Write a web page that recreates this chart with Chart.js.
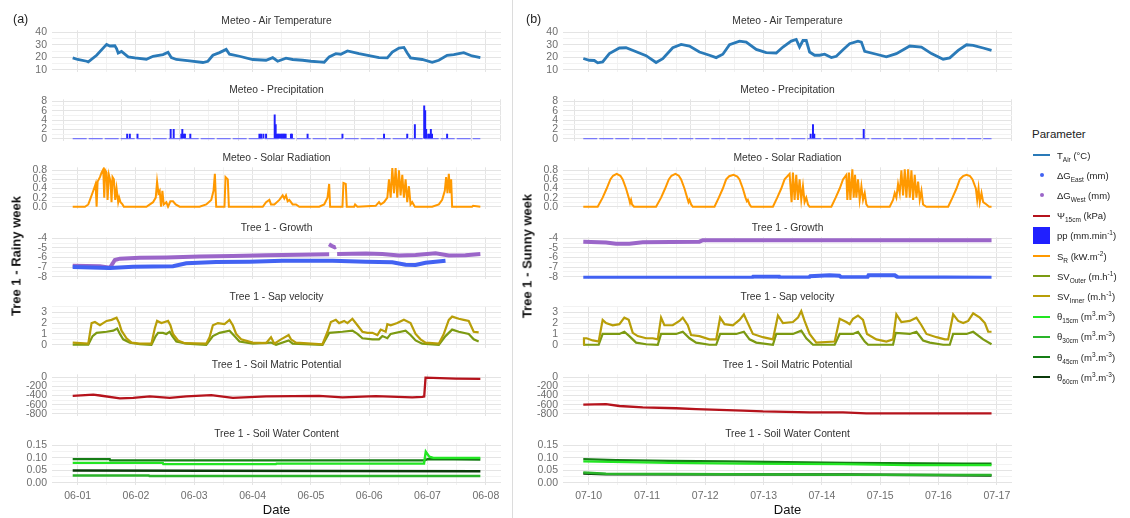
<!DOCTYPE html>
<html>
<head>
<meta charset="utf-8">
<title>Tree 1 - rainy week / sunny week</title>
<script src="https://cdn.jsdelivr.net/npm/chart.js@4.4.1/dist/chart.umd.min.js"></script>
<style>
  html, body { margin: 0; padding: 0; background: #fff; }
  body { position: relative; width: 1130px; height: 518px; overflow: hidden; font-family: "Liberation Sans", Arial, sans-serif; }
  canvas { position: absolute; }
  .abs { position: absolute; white-space: nowrap; }
  .facet { font-size: 10.3px; color: #333; transform: translate(-50%, -50%); }
  .tag { font-size: 12.5px; color: #222; transform: translate(0, -50%); }
  .xttl { font-size: 13px; color: #111; transform: translate(-50%, -50%); }
  .yttl { font-size: 13px; font-weight: bold; color: #111; transform: translate(-50%, -50%) rotate(-90deg); }
  .sep { position: absolute; left: 512px; top: 0; width: 1px; height: 518px; background: #dcdcdc; }
  .lg-title { font-size: 11.5px; color: #222; transform: translate(0, -50%); }
  .lg-row { position: absolute; left: 1033px; height: 18px; font-size: 9.5px; color: #222; display: flex; align-items: center; transform: translate(0, -50%); }
  .lg-key { width: 17px; height: 17px; margin-right: 7px; display: flex; align-items: center; justify-content: center; }
  sub, sup { font-size: 6.5px; line-height: 0; }
</style>
</head>
<body>
<div class="sep"></div>
<script>
// ---- x axis: days since the first date ----
const dayTicks = [0, 1, 2, 3, 4, 5, 6, 7];
const dayLabelsA = ['06-01', '06-02', '06-03', '06-04', '06-05', '06-06', '06-07', '06-08'];
const dayLabelsB = ['07-10', '07-11', '07-12', '07-13', '07-14', '07-15', '07-16', '07-17'];

// ---- y ticks ----
const tempTicks = [10, 20, 30, 40];
const tempTickLabels = ['10', '20', '30', '40'];
const ppTicks = [0, 2, 4, 6, 8];
const ppTickLabels = ['0', '2', '4', '6', '8'];
const srTicks = [0, 0.2, 0.4, 0.6, 0.8];
const srTickLabels = ['0.0', '0.2', '0.4', '0.6', '0.8'];
const growthTicks = [-8, -7, -6, -5, -4];
const growthTickLabels = ['-8', '-7', '-6', '-5', '-4'];
const svTicks = [0, 1, 2, 3];
const svTickLabels = ['0', '1', '2', '3'];
const psiTicks = [-800, -600, -400, -200, 0];
const psiTickLabels = ['-800', '-600', '-400', '-200', '0'];
const swcTicks = [0, 0.05, 0.1, 0.15];
const swcTickLabels = ['0.00', '0.05', '0.10', '0.15'];

// ================= (a) rainy week =================
const tempA_t = [-0.085, 0, 0.154, 0.182, 0.325, 0.496, 0.553, 0.638, 0.667, 0.695, 0.752, 0.866, 0.98, 1.179, 1.293, 1.464, 1.55, 1.607, 1.692, 1.92, 2.148, 2.234, 2.319, 2.433, 2.547, 2.604, 2.775, 3.003, 3.231, 3.345, 3.43, 3.573, 3.687, 3.858, 4.0, 4.142, 4.228, 4.313, 4.427, 4.513, 4.627, 4.826, 4.997, 5.168, 5.311, 5.396, 5.51, 5.595, 5.652, 5.709, 5.909, 6.08, 6.194, 6.336, 6.45, 6.536, 6.621, 6.764, 6.906];
const tempA_v = [19.5, 18.2, 16.8, 16.3, 21.6, 30.3, 29, 29.2, 27, 23.4, 24.7, 20.3, 19.5, 18.4, 20.8, 22.1, 24, 19.7, 18.2, 17.1, 15.8, 16.8, 21.6, 23.7, 26.3, 22.4, 20.8, 18.2, 17.6, 19.7, 16.8, 19.2, 18.2, 17.6, 16.8, 16.3, 16, 20.3, 22.9, 22.4, 25, 22.9, 21.3, 19.7, 19.5, 24.2, 27.4, 27.9, 23.4, 19.5, 18.2, 16, 17.6, 21.6, 22.1, 22.9, 23.7, 21, 19.7];

const ppA_t = [0.849, 0.895, 1.026, 1.595, 1.647, 1.778, 1.795, 1.818, 1.84, 1.932, 3.117, 3.145, 3.185, 3.231, 3.379, 3.396, 3.413, 3.436, 3.459, 3.481, 3.504, 3.527, 3.544, 3.567, 3.658, 3.675, 3.943, 4.541, 5.254, 5.652, 5.783, 5.943, 5.96, 5.977, 6.011, 6.034, 6.057, 6.077, 6.336];
const ppA_v = [1, 1, 1, 2, 2, 1, 2, 1, 1, 1, 1, 1, 1, 1, 5.1, 3, 1, 1, 1, 1, 1, 1, 1, 1, 1, 1, 1, 1, 1, 1, 3, 7, 6, 2, 1, 1, 2, 1, 1];
const ppBaseA_t = [-0.085, 6.906];
const ppBaseA_v = [0, 0];

const srA_t = [-0.085, 0.125, 0.182, 0.211, 0.268, 0.308, 0.325, 0.342, 0.382, 0.41, 0.439, 0.456, 0.473, 0.496, 0.513, 0.536, 0.564, 0.581, 0.598, 0.621, 0.644, 0.667, 0.695, 0.712, 0.735, 0.769, 0.792,
  1.179, 1.293, 1.339, 1.362, 1.385, 1.407, 1.43, 1.453, 1.476, 1.521, 1.55, 1.59, 1.635, 1.681, 1.749,
  2.091, 2.205, 2.291, 2.33, 2.353, 2.376, 2.518, 2.536, 2.575, 2.593,
  3.174, 3.231, 3.288, 3.316, 3.373, 3.459, 3.516, 3.544, 3.573, 3.601, 3.63, 3.687, 3.744, 3.801,
  4.142, 4.228, 4.285, 4.313, 4.33, 4.541, 4.558, 4.598, 4.615, 4.741, 4.758, 4.798,
  5.111, 5.168, 5.197, 5.254, 5.311, 5.339, 5.368, 5.396, 5.425, 5.453, 5.481, 5.51, 5.538, 5.567, 5.595, 5.624, 5.652, 5.681, 5.709, 5.738, 5.783,
  6.08, 6.194, 6.251, 6.296, 6.319, 6.342, 6.365, 6.387, 6.405, 6.422, 6.764, 6.781, 6.906];
const srA_v = [0, 0, 0.05, 0.15, 0.35, 0.5, 0, 0.55, 0.65, 0.75, 0.82, 0.2, 0.8, 0.75, 0.15, 0.7, 0.55, 0.1, 0.65, 0.6, 0.15, 0.4, 0.1, 0.2, 0.1, 0.05, 0,
  0, 0.1, 0.2, 0.55, 0.3, 0.35, 0, 0.35, 0.05, 0.1, 0, 0.12, 0.12, 0.05, 0,
  0, 0.05, 0.15, 0.35, 0.72, 0, 0, 0.65, 0.6, 0,
  0, 0.1, 0.15, 0.05, 0.05, 0.15, 0.25, 0.18, 0.25, 0.12, 0.15, 0.05, 0.05, 0,
  0, 0.05, 0.2, 0.5, 0, 0, 0.52, 0.5, 0, 0, 0.05, 0,
  0.02, 0.1, 0.05, 0.1, 0.2, 0.6, 0.2, 0.85, 0.3, 0.85, 0.2, 0.8, 0.25, 0.7, 0.2, 0.6, 0.1, 0.45, 0.05, 0.1, 0,
  0, 0.05, 0.15, 0.35, 0.65, 0.3, 0.72, 0.3, 0.6, 0, 0, 0.02, 0];

const gEastA_t = [-0.085, 0.553, 0.952, 1.635, 1.863, 2.376, 2.946, 3.516, 4.37, 4.94, 5.396, 5.624, 5.795, 5.966, 6.308];
const gEastA_v = [-6.99, -7.1, -6.96, -6.9, -6.6, -6.47, -6.43, -6.33, -6.33, -6.43, -6.5, -6.75, -6.78, -6.54, -6.33];
const gWestA_t = [-0.085, 0.382, 0.553, 0.638, 0.724, 1.066, 1.521, 2.091, 2.661, 3.231, 3.801, 4.313, 4.32, 4.31, 4.36, 4.41, 4.43, 4.44, 4.45, 4.943, 5.225, 5.51, 5.795, 6.137, 6.365, 6.65, 6.906];
const gWestA_v = [-6.85, -6.9, -7.06, -6.26, -6.12, -6.02, -6.0, -5.9, -5.84, -5.77, -5.7, -5.67, null, -4.62, -4.8, -4.95, -4.9, null, -5.64, -5.57, -5.64, -5.8, -5.75, -5.57, -5.8, -5.76, -5.64];

const svInnerA_t = [-0.085, 0.182, 0.239, 0.296, 0.382, 0.496, 0.581, 0.667, 0.712, 0.752, 0.838, 0.923, 1.066, 1.265, 1.322, 1.362, 1.436, 1.493, 1.55, 1.59, 1.635, 1.721, 1.835, 2.205, 2.262, 2.319, 2.405, 2.519, 2.604, 2.661, 2.718, 2.803, 3.003, 3.231, 3.316, 3.373, 3.487, 3.618, 3.658, 3.744, 4.199, 4.285, 4.342, 4.427, 4.484, 4.57, 4.627, 4.712, 4.798, 4.883, 4.969, 5.054, 5.14, 5.197, 5.282, 5.311, 5.368, 5.481, 5.595, 5.709, 5.795, 5.88, 5.966, 6.194, 6.279, 6.365, 6.422, 6.536, 6.621, 6.707, 6.792, 6.877];
const svInnerA_v = [0.2, 0.1, 2.0, 2.1, 1.8, 2.2, 2.3, 2.5, 2.0, 1.3, 0.6, 0.2, 0.1, 0.1, 1.5, 2.2, 2.0, 2.1, 2.2, 1.8, 1.0, 0.4, 0.15, 0.1, 0.7, 1.8, 2.0, 1.9, 2.3, 1.8, 1.0, 0.5, 0.2, 0.15, 0.7, 0.1, 0.5, 0.9, 0.5, 0.2, 0.05, 1.2, 2.1, 2.3, 2.0, 2.2, 2.0, 2.4, 1.8, 1.2, 1.1, 1.1, 0.9, 1.4, 1.2, 1.9, 1.8, 2.0, 2.3, 2.0, 1.0, 0.5, 0.2, 0.1, 1.0, 2.3, 2.6, 2.4, 2.3, 2.2, 1.2, 1.15];
const svOuterA_t = [-0.085, 0.182, 0.256, 0.325, 0.496, 0.61, 0.678, 0.724, 0.781, 0.895, 1.066, 1.265, 1.339, 1.379, 1.464, 1.521, 1.578, 1.624, 1.692, 1.863, 2.205, 2.319, 2.433, 2.604, 2.689, 2.775, 3.003, 3.316, 3.402, 3.618, 3.687, 4.199, 4.313, 4.541, 4.712, 4.798, 4.883, 5.054, 5.168, 5.225, 5.311, 5.368, 5.624, 5.709, 5.795, 5.909, 6.194, 6.308, 6.422, 6.536, 6.707, 6.792, 6.877];
const svOuterA_v = [0, 0, 0.8, 1.1, 1.2, 1.3, 1.5, 1.0, 0.5, 0.2, 0.05, 0, 0.8, 1.1, 1.1, 1.0, 1.2, 0.8, 0.3, 0.1, 0, 0.8, 1.1, 1.3, 0.8, 0.3, 0.1, 0.2, 0, 0.4, 0.1, 0, 1.1, 1.2, 1.3, 1.0, 0.6, 0.5, 0.5, 0.8, 0.6, 1.0, 1.3, 0.9, 0.4, 0.1, 0, 0.8, 1.4, 1.2, 1.0, 0.5, 0.3];

const psiA_t = [-0.085, 0.268, 0.382, 0.724, 0.952, 1.236, 1.578, 1.863, 2.291, 2.661, 3.231, 4.142, 4.541, 5.111, 5.738, 5.909, 5.943, 5.966, 6.479, 6.906];
const psiA_v = [-407, -380, -400, -463, -450, -420, -450, -420, -393, -450, -420, -407, -442, -414, -442, -428, -420, -10, -30, -35];

const th15A_t = [-0.085, 1.46, 1.47, 3.4, 3.41, 5.94, 5.97, 6.03, 6.1, 6.906];
const th15A_v = [0.08, 0.08, 0.075, 0.075, 0.077, 0.077, 0.125, 0.105, 0.1, 0.1];
const th30A_t = [-0.085, 1.22, 1.23, 6.906];
const th30A_v = [0.03, 0.03, 0.028, 0.028];
const th45A_t = [-0.085, 0.55, 0.56, 5.95, 6.0, 6.906];
const th45A_v = [0.095, 0.095, 0.09, 0.09, 0.095, 0.093];
const th60A_t = [-0.085, 6.906];
const th60A_v = [0.05, 0.047];

// ================= (b) sunny week =================
const tempB_t = [-0.092, 0.011, 0.097, 0.155, 0.24, 0.355, 0.527, 0.641, 0.784, 0.985, 1.156, 1.271, 1.442, 1.586, 1.729, 1.9, 2.072, 2.187, 2.301, 2.416, 2.587, 2.702, 2.874, 3.045, 3.217, 3.332, 3.474, 3.56, 3.617, 3.675, 3.732, 3.789, 3.875, 3.961, 4.047, 4.162, 4.247, 4.362, 4.476, 4.619, 4.677, 4.734, 4.934, 5.106, 5.277, 5.507, 5.707, 5.879, 6.079, 6.193, 6.337, 6.48, 6.594, 6.766, 6.909];
const tempB_v = [19, 17.6, 17.4, 15.5, 16.3, 22.9, 27.4, 27.6, 25, 21.3, 15.8, 18.9, 27.6, 30.3, 29, 24.2, 21.6, 19.7, 22.4, 30, 32.9, 32.1, 26.3, 23.7, 23.4, 28.2, 32.9, 34.2, 28.2, 33.4, 33.4, 24.2, 21.6, 21.6, 22.4, 19.7, 20.8, 26, 30.8, 32.9, 32.1, 24.7, 22.4, 20.3, 22.9, 29, 28.2, 22.9, 18.4, 19.5, 25.5, 30, 29.5, 27.4, 25.5];

const ppB_t = [3.807, 3.847, 3.869, 4.717];
const ppB_v = [1, 3, 1, 2];
const ppBaseB_t = [-0.092, 6.909];
const ppBaseB_v = [0, 0];

const srB_t = [-0.092, 0.155, 0.24, 0.309, 0.372, 0.418, 0.481, 0.544, 0.584, 0.641, 0.687, 0.71, 0.727, 0.744, 0.778,
  1.156, 1.242, 1.311, 1.374, 1.42, 1.488, 1.546, 1.586, 1.643, 1.689, 1.712, 1.729, 1.757, 1.786,
  2.158, 2.232, 2.301, 2.358, 2.41, 2.484, 2.55, 2.587, 2.644, 2.69, 2.713, 2.73, 2.759, 2.788,
  3.16, 3.234, 3.303, 3.36, 3.446, 3.48, 3.503, 3.532, 3.56, 3.589, 3.617, 3.646, 3.675, 3.703, 3.732, 3.761, 3.789,
  4.162, 4.236, 4.305, 4.362, 4.419, 4.436, 4.465, 4.488, 4.522, 4.545, 4.568, 4.591, 4.619, 4.648, 4.677, 4.705, 4.734, 4.762, 4.791,
  5.163, 5.22, 5.249, 5.277, 5.306, 5.335, 5.363, 5.392, 5.421, 5.449, 5.478, 5.507, 5.535, 5.564, 5.592, 5.621, 5.65, 5.678, 5.707, 5.735, 5.792,
  6.165, 6.239, 6.308, 6.365, 6.42, 6.48, 6.54, 6.583, 6.64, 6.663, 6.686, 6.708, 6.737, 6.766, 6.823, 6.869, 6.909];
const srB_v = [0, 0, 0.2, 0.4, 0.6, 0.68, 0.72, 0.68, 0.6, 0.4, 0.2, 0.08, 0.15, 0.05, 0,
  0, 0.2, 0.4, 0.6, 0.68, 0.72, 0.68, 0.6, 0.4, 0.2, 0.1, 0.15, 0.05, 0,
  0, 0.2, 0.4, 0.6, 0.67, 0.7, 0.66, 0.6, 0.4, 0.2, 0.12, 0.15, 0.05, 0,
  0, 0.2, 0.4, 0.6, 0.72, 0.1, 0.75, 0.15, 0.7, 0.15, 0.6, 0.15, 0.45, 0.1, 0.2, 0.05, 0,
  0, 0.2, 0.4, 0.6, 0.7, 0.15, 0.75, 0.15, 0.82, 0.2, 0.7, 0.2, 0.6, 0.15, 0.45, 0.15, 0.3, 0.05, 0,
  0, 0.15, 0.3, 0.2, 0.5, 0.3, 0.8, 0.25, 0.82, 0.2, 0.82, 0.2, 0.8, 0.15, 0.7, 0.2, 0.55, 0.15, 0.35, 0.05, 0,
  0, 0.2, 0.4, 0.6, 0.67, 0.7, 0.67, 0.6, 0.4, 0.15, 0.4, 0.1, 0.3, 0.1, 0.05, 0, 0];

const gEastB_t = [-0.092, 2.8, 2.82, 3.27, 3.28, 3.78, 3.8, 4.13, 4.3, 4.33, 4.78, 4.8, 5.25, 5.3, 6.909];
const gEastB_v = [-8.1, -8.1, -8.0, -8.0, -8.07, -8.07, -7.95, -7.85, -7.9, -8.05, -8.05, -7.85, -7.85, -8.05, -8.1];
const gWestB_t = [-0.092, 0.298, 0.469, 0.698, 0.927, 1.9, 1.958, 6.909];
const gWestB_v = [-4.35, -4.45, -4.56, -4.56, -4.42, -4.35, -4.2, -4.2];

const svInnerB_t = [-0.092, -0.08, -0.034, 0.069, 0.172, 0.24, 0.298, 0.412, 0.527, 0.612, 0.687, 0.756, 0.841, 0.985, 1.099, 1.185, 1.242, 1.299, 1.442, 1.557, 1.614, 1.7, 1.757, 1.9, 2.072, 2.187, 2.255, 2.33, 2.473, 2.587, 2.662, 2.73, 2.816, 2.988, 3.16, 3.246, 3.332, 3.503, 3.589, 3.646, 3.703, 3.789, 3.904, 4.219, 4.305, 4.419, 4.476, 4.534, 4.619, 4.705, 4.774, 4.934, 5.106, 5.22, 5.277, 5.363, 5.507, 5.621, 5.707, 5.793, 5.965, 6.108, 6.165, 6.251, 6.337, 6.423, 6.509, 6.594, 6.709, 6.795, 6.852, 6.909];
const svInnerB_v = [0, 0.6, 0.6, 0.4, 0.3, 2.3, 2.0, 1.8, 1.9, 2.5, 2.3, 1.1, 0.8, 0.6, 0.6, 0.5, 2.5, 1.8, 1.8, 2.2, 2.5, 1.8, 0.9, 0.8, 0.5, 0.5, 2.5, 1.9, 1.8, 2.3, 2.8, 2.0, 1.0, 0.7, 0.5, 2.7, 2.0, 2.1, 2.5, 3.1, 2.2, 1.0, 0.2, 0.3, 2.4, 2.1, 1.9, 2.4, 2.7, 2.3, 1.0, 0.5, 0.3, 0.5, 2.8, 2.1, 2.2, 2.5, 1.8, 1.0, 0.7, 0.5, 0.5, 2.8, 2.2, 2.0, 2.2, 2.9, 2.5, 2.0, 1.2, 1.2];
const svOuterB_t = [-0.092, 0.172, 0.24, 0.355, 0.527, 0.612, 0.698, 0.813, 0.985, 1.185, 1.242, 1.5, 1.614, 1.729, 1.843, 2.072, 2.187, 2.255, 2.53, 2.662, 2.759, 2.874, 3.16, 3.217, 3.503, 3.646, 3.732, 3.847, 4.219, 4.305, 4.534, 4.619, 4.734, 4.791, 5.22, 5.266, 5.507, 5.621, 5.735, 5.85, 6.079, 6.193, 6.251, 6.48, 6.594, 6.766, 6.909];
const svOuterB_v = [0, 0, 1.0, 1.0, 1.0, 1.2, 0.8, 0.2, 0.05, 0, 1.0, 1.0, 1.2, 0.6, 0.2, 0, 0, 1.0, 1.0, 1.2, 0.5, 0.2, 0, 1.0, 1.0, 1.3, 0.6, 0, 0, 1.0, 1.0, 1.2, 0.3, 0, 0, 1.1, 1.0, 1.2, 0.4, 0.2, 0, 0, 1.0, 1.0, 1.2, 0.5, 0.05];

const psiB_t = [-0.092, 0.298, 0.527, 0.927, 1.5, 1.843, 2.645, 2.988, 3.789, 4.362, 4.762, 6.909];
const psiB_v = [-600, -590, -630, -660, -680, -700, -730, -750, -770, -770, -790, -790];

const th15B_t = [-0.092, 1.385, 2.645, 4.362, 5.507, 6.909];
const th15B_v = [0.086, 0.08, 0.077, 0.075, 0.071, 0.071];
const th30B_t = [-0.092, 0.298, 4.419, 6.909];
const th30B_v = [0.042, 0.037, 0.033, 0.032];
const th45B_t = [-0.092, 0.469, 1.385, 2.358, 3.389, 4.419, 6.423, 6.909];
const th45B_v = [0.095, 0.091, 0.088, 0.086, 0.083, 0.08, 0.077, 0.077];
const th60B_t = [-0.092, 0.298, 4.419, 6.909];
const th60B_v = [0.038, 0.035, 0.034, 0.03];

// ---- colours ----
const C = {
  temp: '#2a7ab8', east: '#4262f2', west: '#9b66c9', psi: '#b5131c', pp: '#2020ff',
  sr: '#ff9900', outer: '#7c9a12', inner: '#b89e08',
  th15: '#22e622', th30: '#2ab42a', th45: '#157d15', th60: '#0b3a0b'
};

Chart.defaults.font.family = '"Liberation Sans", Arial, sans-serif';
Chart.defaults.font.size = 10.5;
Chart.defaults.color = '#6e6e6e';

const xy = (t, v) => t.map((x, i) => ({ x: x, y: v[i] }));
const line = (t, v, color, w, dash) => ({
  type: 'line', data: xy(t, v), borderColor: color, borderWidth: w,
  borderDash: dash || [], pointRadius: 0, tension: 0, fill: false
});
const bars = (t, v, color) => ({
  type: 'bar', data: xy(t, v), backgroundColor: color, borderWidth: 0, barThickness: 1.3, grouped: false
});

// major ticks carry a label, minor ticks sit half way between
function tickList(major, labels) {
  const step = major[1] - major[0];
  const out = major.map((v, i) => ({ value: v, lab: labels[i] }));
  const r = v => Math.round(v * 1e6) / 1e6;
  out.push({ value: r(major[0] - step / 2), minor: true });
  major.forEach(v => out.push({ value: r(v + step / 2), minor: true }));
  return out.sort((a, b) => a.value - b.value);
}

const ROW_TOP = [30, 99, 167, 237, 306, 374, 443];
const PLOT_H = 42;
const PLOT_W = 449;
const AXIS_W = 34;
const X_MIN = -0.44, X_MAX = 7.26;

const rowSpecs = [
  { title: 'Meteo - Air Temperature', min: 8.42, max: 41.58, ticks: tempTicks, labels: tempTickLabels },
  { title: 'Meteo - Precipitation', min: -0.42, max: 8.42, ticks: ppTicks, labels: ppTickLabels },
  { title: 'Meteo - Solar Radiation', min: -0.043, max: 0.865, ticks: srTicks, labels: srTickLabels },
  { title: 'Tree 1 - Growth', min: -8.2, max: -3.9, ticks: growthTicks, labels: growthTickLabels },
  { title: 'Tree 1 - Sap velocity', min: -0.27, max: 3.55, ticks: svTicks, labels: svTickLabels },
  { title: 'Tree 1 - Soil Matric Potential', min: -843, max: 65, ticks: psiTicks, labels: psiTickLabels },
  { title: 'Tree 1 - Soil Water Content', min: -0.008, max: 0.158, ticks: swcTicks, labels: swcTickLabels }
];

const panels = [
  {
    plotLeft: 52, tag: '(a)', tagX: 13, yTitle: 'Tree 1 - Rainy week', yTitleX: 16, dayLabels: dayLabelsA,
    rows: () => [
      [line(tempA_t, tempA_v, C.temp, 2.8)],
      [line(ppBaseA_t, ppBaseA_v, '#5a5aff', 1, [14, 2]), bars(ppA_t, ppA_v, C.pp)],
      [line(srA_t, srA_v, C.sr, 2)],
      [line(gEastA_t, gEastA_v, C.east, 4), line(gWestA_t, gWestA_v, C.west, 4)],
      [line(svInnerA_t, svInnerA_v, C.inner, 2.2), line(svOuterA_t, svOuterA_v, C.outer, 2.2)],
      [line(psiA_t, psiA_v, C.psi, 2.3)],
      [line(th15A_t, th15A_v, C.th15, 2.4), line(th30A_t, th30A_v, C.th30, 2.4),
       line(th45A_t, th45A_v, C.th45, 2.4), line(th60A_t, th60A_v, C.th60, 2.4)]
    ]
  },
  {
    plotLeft: 563, tag: '(b)', tagX: 526, yTitle: 'Tree 1 - Sunny week', yTitleX: 527, dayLabels: dayLabelsB,
    rows: () => [
      [line(tempB_t, tempB_v, C.temp, 2.8)],
      [line(ppBaseB_t, ppBaseB_v, '#5a5aff', 1, [14, 2]), bars(ppB_t, ppB_v, C.pp)],
      [line(srB_t, srB_v, C.sr, 2)],
      [line(gEastB_t, gEastB_v, C.east, 4), line(gWestB_t, gWestB_v, C.west, 4)],
      [line(svInnerB_t, svInnerB_v, C.inner, 2.2), line(svOuterB_t, svOuterB_v, C.outer, 2.2)],
      [line(psiB_t, psiB_v, C.psi, 2.3)],
      [line(th15B_t, th15B_v, C.th15, 2.4), line(th30B_t, th30B_v, C.th30, 2.4),
       line(th45B_t, th45B_v, C.th45, 2.4), line(th60B_t, th60B_v, C.th60, 2.4)]
    ]
  }
];

function addText(cls, html, x, y) {
  const d = document.createElement('div');
  d.className = 'abs ' + cls;
  d.innerHTML = html;
  d.style.left = x + 'px';
  d.style.top = y + 'px';
  document.body.appendChild(d);
  return d;
}

const gridColor = ctx => (ctx.tick && ctx.tick.minor) ? '#f2f2f2' : '#e4e4e4';
const xTicks = tickList(dayTicks, dayTicks.map(String));

function makeConfig(p, r) {
  const spec = rowSpecs[r];
  const bottom = r === rowSpecs.length - 1;
  const yList = tickList(spec.ticks, spec.labels);
  return {
    type: 'line',
    data: { datasets: p.rows()[r] },
    options: {
      responsive: false,
      animation: false,
      events: [],
      layout: { padding: { top: 8, bottom: bottom ? 0 : 8, left: 0, right: 4 } },
      plugins: { legend: { display: false }, tooltip: { enabled: false } },
      scales: {
        x: {
          type: 'linear', min: X_MIN, max: X_MAX, offset: false, bounds: 'data',
          border: { display: false },
          grid: { drawTicks: false, color: gridColor },
          ticks: {
            display: bottom, autoSkip: false, maxRotation: 0, padding: 5,
            callback: (v, i, t) => (t[i] && t[i].lab !== undefined) ? p.dayLabels[dayTicks.indexOf(t[i].value)] : ''
          },
          afterBuildTicks: ax => { ax.ticks = xTicks.filter(t => t.value >= ax.min && t.value <= ax.max).map(t => ({ ...t })); },
          afterFit: ax => { ax.height = bottom ? 22 : 0; }
        },
        y: {
          type: 'linear', min: spec.min, max: spec.max, bounds: 'data',
          border: { display: false },
          grid: { drawTicks: false, color: gridColor },
          ticks: {
            autoSkip: false, padding: 5,
            callback: (v, i, t) => (t[i] && t[i].lab !== undefined) ? t[i].lab : ''
          },
          afterBuildTicks: ax => { ax.ticks = yList.filter(t => t.value >= ax.min && t.value <= ax.max).map(t => ({ ...t })); },
          afterFit: ax => { ax.width = AXIS_W; }
        }
      }
    }
  };
}

function newCanvas(left, top, w, h) {
  const cv = document.createElement('canvas');
  cv.width = w; cv.height = h;
  cv.style.left = left + 'px';
  cv.style.top = top + 'px';
  document.body.appendChild(cv);
  return cv;
}

panels.forEach(p => {
  const midX = p.plotLeft + PLOT_W / 2;

  rowSpecs.forEach((spec, r) => {
    // first pass: find where Chart.js puts the plot area, then place the real canvas so the plot area
    // lands exactly on the panel box
    const w0 = 520, h0 = 120;
    const probe = newCanvas(0, 0, w0, h0);
    const tmp = new Chart(probe, makeConfig(p, r));
    const ca = tmp.chartArea;
    const offL = ca.left, offT = ca.top, extR = w0 - ca.right, extB = h0 - ca.bottom;
    tmp.destroy();
    probe.remove();

    const cv = newCanvas(p.plotLeft - offL, ROW_TOP[r] - offT, offL + PLOT_W + extR, offT + PLOT_H + extB);
    new Chart(cv, makeConfig(p, r));

    addText('facet', spec.title, midX, ROW_TOP[r] - 10);
  });

  addText('tag', p.tag, p.tagX, 19);
  addText('xttl', 'Date', midX, 509);
  addText('yttl', p.yTitle, p.yTitleX, 256);
});

// ---- legend ----
const legendRows = [
  ['line', C.temp, 'T<sub>Air</sub> (°C)'],
  ['dot', C.east, 'ΔG<sub>East</sub> (mm)'],
  ['dot', C.west, 'ΔG<sub>West</sub> (mm)'],
  ['line', C.psi, 'Ψ<sub>15cm</sub> (kPa)'],
  ['box', C.pp, 'pp (mm.min<sup>-1</sup>)'],
  ['line', C.sr, 'S<sub>R</sub> (kW.m<sup>-2</sup>)'],
  ['line', C.outer, 'SV<sub>Outer</sub> (m.h<sup>-1</sup>)'],
  ['line', C.inner, 'SV<sub>Inner</sub> (m.h<sup>-1</sup>)'],
  ['line', C.th15, 'θ<sub>15cm</sub> (m<sup>3</sup>.m<sup>-3</sup>)'],
  ['line', C.th30, 'θ<sub>30cm</sub> (m<sup>3</sup>.m<sup>-3</sup>)'],
  ['line', C.th45, 'θ<sub>45cm</sub> (m<sup>3</sup>.m<sup>-3</sup>)'],
  ['line', C.th60, 'θ<sub>60cm</sub> (m<sup>3</sup>.m<sup>-3</sup>)']
];

addText('lg-title', 'Parameter', 1032, 134);
legendRows.forEach((row, i) => {
  const d = document.createElement('div');
  d.className = 'lg-row';
  d.style.top = (155 + i * 20.2) + 'px';
  let key;
  if (row[0] === 'line') key = `<span style="display:block;width:17px;height:2px;background:${row[1]}"></span>`;
  else if (row[0] === 'dot') key = `<span style="display:block;width:4px;height:4px;border-radius:50%;background:${row[1]}"></span>`;
  else key = `<span style="display:block;width:17px;height:17px;background:${row[1]}"></span>`;
  d.innerHTML = `<span class="lg-key">${key}</span><span>${row[2]}</span>`;
  document.body.appendChild(d);
});
</script>
</body>
</html>
